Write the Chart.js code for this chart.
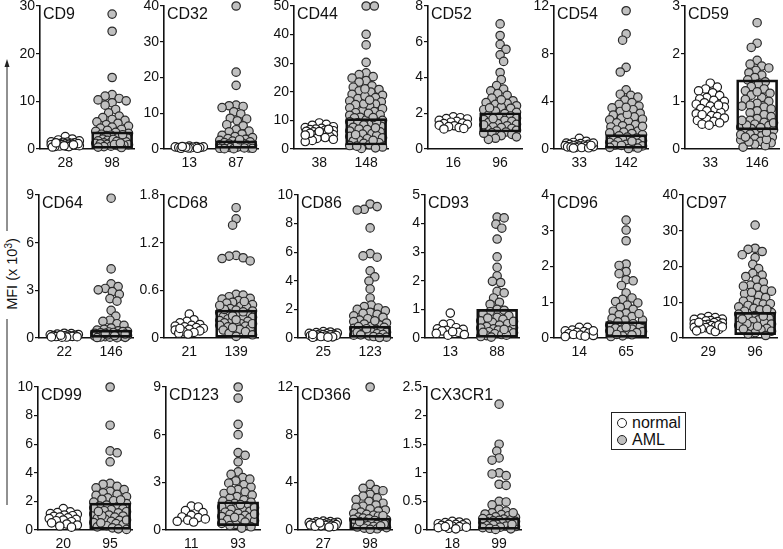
<!DOCTYPE html>
<html><head><meta charset="utf-8">
<script src="https://cdn.jsdelivr.net/npm/chart.js@4"></script>
<style>
html,body{margin:0;padding:0;background:#fff;}
#wrap{position:relative;width:783px;height:549px;overflow:hidden;font-family:"Liberation Sans",Arial,sans-serif;}
canvas{position:absolute;}
#legend{position:absolute;left:611px;top:412px;width:75px;height:38px;border:1px solid #222;box-sizing:border-box;font-size:16px;color:#111;}
#legend div{position:absolute;left:20px;height:18px;line-height:18px;}
#legend span{position:absolute;width:8px;height:8px;border-radius:50%;border:1px solid #222;}
#ytitle{position:absolute;left:12px;top:274px;transform:translate(-50%,-50%) rotate(-90deg);white-space:nowrap;font-size:14.5px;color:#111;}
</style></head>
<body><div id="wrap">
<svg width="20" height="549" style="position:absolute;left:0;top:0">
<line x1="7" y1="66" x2="7" y2="231" stroke="#222" stroke-width="1"/>
<line x1="7" y1="319" x2="7" y2="505" stroke="#222" stroke-width="1"/>
<polygon points="7,59 4.5,67 9.5,67" fill="#222"/>
</svg>
<div id="ytitle">MFI (x 10<sup style="font-size:10px;vertical-align:5px;line-height:0">3</sup>)</div>
<div id="legend">
<span style="left:5px;top:5px;background:#fff"></span><div style="top:1px">normal</div>
<span style="left:5px;top:22px;background:#c0c0c0"></span><div style="top:18px">AML</div>
</div>
</div>
<script>
const markers = ['CD9','CD32','CD44','CD52','CD54','CD59','CD64','CD68','CD86','CD93','CD96','CD97','CD99','CD123','CD366','CX3CR1'];
const nNormal = [28,13,38,16,33,33,22,21,25,13,14,29,20,11,27,18];
const nAML = [98,87,148,96,142,146,146,139,123,88,65,96,95,93,98,99];
const yMax = [30,40,50,8,12,3,9,1.8,10,5,4,40,10,9,12,2.5];
const yTicks = [[0,10,20,30],[0,10,20,30,40],[0,10,20,30,40,50],[0,2,4,6,8],[0,4,8,12],[0,1,2,3],
  [0,3,6,9],[0,0.6,1.2,1.8],[0,2,4,6,8,10],[0,1,2,3,4,5],[0,1,2,3,4],[0,10,20,30,40],
  [0,2,4,6,8,10],[0,3,6,9],[0,4,8,12],[0,0.5,1,1.5,2,2.5]];
const boxLow  = [0,0,1.4,0.95,0,0.4,0,0,0,0,0,0.95,0,0.28,0,0];
const boxHigh = [3.6,2.3,10.6,2.03,1.2,1.45,0.5,0.35,0.82,1.0,0.46,7.15,1.88,1.78,1.0,0.21];

const CD9_normal = [2.6,2.1,1.9,1.7,1.5,1.45,1.4,1.3,1.2,1.15,1.1,1.0,1.0,0.92,0.9,0.82,0.8,0.72,0.7,0.62,0.6,0.52,0.5,0.42,1.12,1.28,0.88,0.68];
const CD9_aml = [28.3,24.7,15.0,11.4,11.1,10.6,10.3,10.1,9.7,9.2,8.3,7.6,6.9,6.6,6.2,6.0,5.7,5.4,5.1,4.8,4.6,4.4,4.1,3.9,3.7,3.5,3.3,3.1,2.9,2.8,2.6,2.4,2.3,2.1,1.9,1.8,1.7,1.5,1.4,1.3,1.2,1.1,1.0,0.9,0.8,0.7,0.6,0.5,0.4,0.3,2.0,3.0,1.6,0.95,1.25];
const CD32_normal = [0.8,0.7,0.6,0.6,0.5,0.4,0.4,0.3,0.3,0.2,0.2,0.5,0.7];
const CD32_aml = [40,21.5,17.8,12.3,12.1,11.9,11.6,10.4,9.8,8.6,8.4,7.9,6.8,6.5,5.4,5.0,4.8,4.2,3.8,3.5,3.2,2.9,2.7,2.4,2.2,2.0,1.8,1.6,1.4,1.2,1.1,1.0,0.9,0.8,0.7,0.6,0.5,0.4,0.3,0.3,0.2,0.2,0.1,0.1,1.5,2.6];
const CD44_normal = [9.1,8.6,8.3,7.8,7.5,7.2,7.0,6.8,6.6,6.4,6.2,6.0,5.8,5.6,5.4,5.2,5.0,4.8,4.6,4.4,4.2,4.0,3.7,3.4,3.0,2.6,6.1,5.5,6.9,4.9];
const CD44_aml = [50,50,40.1,36.4,30.3,26.6,26.0,25.3,24.8,23.9,23.4,22.1,21.6,20.8,20.3,19.9,19.1,18.8,18.0,17.6,16.8,16.5,15.7,15.5,15.0,14.4,14.1,13.3,13.1,12.7,12.0,11.8,11.1,10.9,10.2,10.0,9.5,9.2,8.6,8.4,7.9,7.6,7.0,6.8,6.3,6.0,5.4,5.2,4.7,4.4,3.9,3.6,3.1,2.8,2.2,2.0,1.5,1.2,0.7,0.4,0.2,12.5,15.8,18.5,9.4,7.4,5.0,3.0,1.0,11.0,17.1,21.0];
const CD52_normal = [1.8,1.75,1.7,1.68,1.6,1.55,1.5,1.45,1.42,1.38,1.33,1.3,1.25,1.2,1.15,1.12];
const CD52_aml = [7.0,6.35,5.85,5.58,5.27,4.9,4.28,3.88,3.55,3.35,3.25,3.1,3.0,2.85,2.7,2.6,2.55,2.5,2.42,2.35,2.28,2.2,2.12,2.05,1.98,1.9,1.85,1.78,1.72,1.65,1.6,1.55,1.48,1.42,1.38,1.3,1.25,1.2,1.15,1.1,1.05,1.0,0.95,0.9,0.82,0.75,0.68,0.6,0.54,1.7,2.3,1.35,2.75,0.88];
const CD54_normal = [0.9,0.65,0.55,0.5,0.45,0.4,0.38,0.35,0.32,0.3,0.28,0.25,0.22,0.2,0.18,0.16,0.14,0.12,0.1,0.08,0.5,0.3];
const CD54_aml = [11.6,9.66,9.13,6.85,6.46,4.97,4.6,4.5,4.35,4.1,3.9,3.75,3.6,3.45,3.3,3.15,3.0,2.85,2.7,2.6,2.45,2.3,2.2,2.05,1.95,1.85,1.72,1.6,1.5,1.42,1.3,1.2,1.1,1.0,0.92,0.85,0.78,0.7,0.62,0.55,0.48,0.4,0.33,0.26,0.2,0.14,0.08,0.04,1.35,2.5,0.65,1.9,0.3,2.9,3.5];
const CD59_normal = [1.38,1.3,1.26,1.22,1.18,1.12,1.08,1.05,1.02,1.0,0.97,0.94,0.9,0.88,0.85,0.82,0.8,0.77,0.74,0.7,0.68,0.65,0.62,0.6,0.58,0.55,0.52,0.5,0.92,0.72];
const CD59_aml = [2.65,2.22,2.13,1.86,1.78,1.74,1.7,1.65,1.6,1.55,1.5,1.45,1.41,1.36,1.31,1.26,1.22,1.17,1.13,1.08,1.04,1.0,0.96,0.92,0.88,0.84,0.8,0.76,0.72,0.68,0.64,0.6,0.56,0.52,0.49,0.46,0.43,0.4,0.37,0.34,0.31,0.28,0.25,0.22,0.19,0.16,0.13,0.1,0.07,0.04,0.3,0.5,0.2,0.45,0.35,0.15,0.6,1.2,0.9,0.55,0.25];
const CD64_normal = [0.3,0.28,0.25,0.22,0.2,0.19,0.17,0.15,0.14,0.12,0.11,0.1,0.09,0.08,0.07,0.06,0.05,0.18];
const CD64_aml = [8.8,4.35,3.41,3.24,3.12,3.03,2.92,2.75,2.48,2.32,1.74,1.38,1.12,1.05,0.9,0.8,0.63,0.55,0.5,0.45,0.42,0.38,0.35,0.32,0.3,0.28,0.25,0.22,0.2,0.18,0.16,0.14,0.12,0.1,0.08,0.06,0.05,0.04,0.03,0.02,0.2,0.3,0.15,0.4,0.25];
const CD68_normal = [0.3,0.23,0.21,0.19,0.17,0.16,0.15,0.14,0.13,0.12,0.11,0.1,0.09,0.08,0.07,0.06,0.05,0.12];
const CD68_aml = [1.64,1.5,1.42,1.04,1.03,1.01,1.0,0.97,0.55,0.54,0.52,0.5,0.49,0.47,0.45,0.44,0.42,0.4,0.39,0.37,0.35,0.34,0.32,0.31,0.3,0.29,0.27,0.26,0.25,0.24,0.22,0.21,0.2,0.19,0.18,0.17,0.16,0.15,0.14,0.12,0.11,0.1,0.08,0.06,0.04,0.02,0.33,0.28,0.23,0.36,0.41,0.18,0.13,0.46];
const CD86_normal = [0.45,0.42,0.38,0.35,0.32,0.3,0.28,0.26,0.24,0.22,0.2,0.18,0.16,0.14,0.12,0.1,0.08,0.06,0.05,0.25];
const CD86_aml = [9.37,9.19,9.0,8.95,7.7,5.9,5.74,5.65,4.7,4.28,3.98,3.43,2.8,2.3,2.2,2.1,2.0,1.9,1.8,1.72,1.65,1.55,1.45,1.35,1.25,1.15,1.05,0.98,0.9,0.82,0.75,0.68,0.6,0.55,0.5,0.45,0.4,0.35,0.3,0.25,0.2,0.15,0.1,0.06,0.03,0.8,1.2,0.4,0.65,0.22];
const CD93_normal = [0.87,0.5,0.48,0.36,0.32,0.3,0.27,0.25,0.2,0.16,0.12,0.1,0.22];
const CD93_aml = [4.23,4.2,3.98,3.84,3.46,2.84,2.47,2.17,1.98,1.94,1.63,1.58,1.4,1.25,1.18,1.0,0.97,0.92,0.85,0.78,0.72,0.65,0.6,0.55,0.5,0.45,0.4,0.36,0.32,0.28,0.25,0.22,0.18,0.15,0.12,0.1,0.08,0.05,0.03,0.7,0.35,0.2,0.58,0.3];
const CD96_normal = [0.3,0.3,0.22,0.2,0.18,0.16,0.14,0.12,0.1,0.08,0.07,0.05,0.04,0.2];
const CD96_aml = [3.3,3.02,2.72,2.07,2.03,1.86,1.8,1.63,1.6,1.47,1.26,1.12,1.08,1.02,0.98,0.92,0.86,0.8,0.75,0.7,0.65,0.6,0.55,0.5,0.45,0.4,0.36,0.32,0.28,0.25,0.22,0.18,0.15,0.12,0.09,0.06,0.04,0.3,0.2,0.5,0.1,0.68];
const CD97_normal = [6.0,5.7,5.6,5.3,5.2,4.9,4.8,4.6,4.3,4.2,4.0,3.8,3.7,3.5,3.4,3.2,3.0,2.9,2.6,2.4,2.3,2.0,1.8,4.4,3.6,3.1];
const CD97_aml = [31.6,25.1,24.8,24.2,23.3,22.5,20.6,19.4,18.1,17.6,17.2,16.3,15.6,14.8,14.2,13.6,13.1,12.4,11.9,11.3,10.8,10.3,9.9,9.5,9.1,8.7,8.3,7.9,7.5,7.1,6.7,6.3,5.9,5.5,5.1,4.7,4.3,3.9,3.5,3.1,2.7,2.3,1.9,1.5,1.1,0.7,12.8,9.6,6.1,4.0,2.5,14.5,8.0,5.3,3.3];
const CD99_normal = [1.5,1.27,1.22,1.15,1.1,1.05,1.0,0.95,0.9,0.85,0.8,0.75,0.7,0.65,0.58,0.5,0.42,0.35,0.28,0.2];
const CD99_aml = [10.0,7.33,5.53,5.4,4.77,3.26,3.2,3.05,2.95,2.82,2.7,2.6,2.5,2.42,2.33,2.25,2.15,2.05,1.95,1.85,1.75,1.68,1.6,1.5,1.42,1.35,1.28,1.2,1.12,1.05,0.98,0.9,0.82,0.75,0.68,0.6,0.52,0.45,0.38,0.3,0.22,0.15,0.08,0.04,1.0,1.55,2.1,0.7,1.3,0.5];
const CD123_normal = [1.5,1.45,1.22,1.1,0.92,0.82,0.78,0.7,0.62,0.55,0.5];
const CD123_aml = [9.0,8.3,6.65,6.0,4.87,4.7,4.29,3.66,3.5,3.3,3.1,2.95,2.85,2.7,2.55,2.4,2.3,2.2,2.1,2.0,1.9,1.82,1.75,1.68,1.6,1.52,1.45,1.38,1.3,1.24,1.18,1.12,1.05,0.98,0.92,0.85,0.78,0.72,0.65,0.58,0.5,0.42,0.35,0.28,0.2,0.12,1.4,1.0,2.5,0.8,1.6,3.2];
const CD366_normal = [0.75,0.7,0.68,0.65,0.62,0.6,0.58,0.55,0.52,0.5,0.48,0.45,0.42,0.4,0.38,0.35,0.32,0.3,0.25,0.6];
const CD366_aml = [12.0,3.83,3.5,3.4,3.3,3.0,2.85,2.7,2.55,2.4,2.25,2.1,2.0,1.9,1.78,1.68,1.58,1.5,1.4,1.32,1.24,1.16,1.08,1.0,0.93,0.86,0.8,0.73,0.66,0.6,0.54,0.48,0.42,0.36,0.3,0.25,0.2,0.15,0.1,0.06,0.9,0.5,1.2,0.7,0.35];
const CX3CR1_normal = [0.15,0.14,0.13,0.12,0.11,0.1,0.09,0.08,0.07,0.06,0.05,0.04,0.03,0.02,0.1,0.06];
const CX3CR1_aml = [2.2,1.5,1.38,1.26,1.22,1.0,0.98,0.95,0.8,0.78,0.5,0.49,0.44,0.36,0.33,0.3,0.28,0.27,0.25,0.23,0.22,0.2,0.19,0.18,0.17,0.16,0.15,0.14,0.13,0.12,0.11,0.1,0.09,0.08,0.07,0.06,0.05,0.04,0.03,0.02,0.01,0.2,0.15,0.1,0.3];

const normalSets = [CD9_normal,CD32_normal,CD44_normal,CD52_normal,CD54_normal,CD59_normal,CD64_normal,CD68_normal,CD86_normal,CD93_normal,CD96_normal,CD97_normal,CD99_normal,CD123_normal,CD366_normal,CX3CR1_normal];
const amlSets = [CD9_aml,CD32_aml,CD44_aml,CD52_aml,CD54_aml,CD59_aml,CD64_aml,CD68_aml,CD86_aml,CD93_aml,CD96_aml,CD97_aml,CD99_aml,CD123_aml,CD366_aml,CX3CR1_aml];

// layout (pixels)
const axisX = [40,164,294,428,554,685, 39,164,298,425,554,683, 38,166,298,427];
const rowTop = [6,195,387];
const PLOT_H = 143, PLOT_W = 97, YAX_W = 40, PAD_T = 12, XAX_H = 26, PAD_R = 3;
const X_MIN = -0.54, X_MAX = 1.48;
const PX_PER_X = PLOT_W / (X_MAX - X_MIN);
const DOT_R = 4.2;

function swarm(vals, ymax, center, maxOff) {
  const pxY = PLOT_H / ymax;
  const order = vals.map((v, i) => i).sort((a, b) => vals[b] - vals[a]);
  const placed = [];
  const out = new Array(vals.length);
  const minD = 7.2, step = 1.2;
  order.forEach((idx, n) => {
    const y = vals[idx] * pxY;
    let best = 0, bestScore = -1;
    const sgn = n % 2 ? 1 : -1;
    const kMax = Math.floor(maxOff / step) * 2;
    for (let k = 0; k <= kMax; k++) {
      const off = (k % 2 ? sgn : -sgn) * Math.ceil(k / 2) * step;
      let dmin = Infinity;
      for (const p of placed) {
        const d = Math.hypot(p.x - off, p.y - y);
        if (d < dmin) dmin = d;
      }
      if (dmin >= minD) { best = off; bestScore = Infinity; break; }
      if (dmin > bestScore) { bestScore = dmin; best = off; }
    }
    placed.push({x: best, y});
    out[idx] = {x: center + best / PX_PER_X, y: vals[idx]};
  });
  return out;
}

const titlePlugin = {
  id: 'panelTitle',
  afterDraw(chart, args, opts) {
    const {ctx, chartArea} = chart;
    ctx.save();
    ctx.font = '16px "Liberation Sans", Arial, sans-serif';
    ctx.fillStyle = '#111';
    ctx.textBaseline = 'middle';
    ctx.textAlign = 'left';
    ctx.fillText(opts.text, chartArea.left + 3, chartArea.top + 9);
    ctx.restore();
  }
};

const wrap = document.getElementById('wrap');
markers.forEach((name, i) => {
  const row = i < 6 ? 0 : (i < 12 ? 1 : 2);
  const cv = document.createElement('canvas');
  const W = YAX_W + PLOT_W + PAD_R, H = PAD_T + PLOT_H + XAX_H;
  cv.width = W; cv.height = H;
  cv.style.left = (axisX[i] - YAX_W) + 'px';
  cv.style.top = (rowTop[row] - PAD_T) + 'px';
  cv.style.width = W + 'px'; cv.style.height = H + 'px';
  wrap.appendChild(cv);
  const ticks = yTicks[i];
  new Chart(cv, {
    type: 'bar',
    data: {
      datasets: [
        {
          type: 'bar',
          data: [{x: 1, y: [boxLow[i], boxHigh[i]]}],
          backgroundColor: 'rgba(255,255,255,0)',
          borderColor: '#111',
          borderWidth: 2,
          borderSkipped: false,
          barThickness: 41,
          order: 0
        },
        {
          type: 'scatter',
          data: swarm(normalSets[i], yMax[i], 0, 15),
          backgroundColor: '#ffffff',
          borderColor: '#1a1a1a',
          borderWidth: 1.2,
          pointRadius: DOT_R,
          order: 2
        },
        {
          type: 'scatter',
          data: swarm(amlSets[i], yMax[i], 1, 17),
          backgroundColor: '#c0c0c0',
          borderColor: '#2a2a2a',
          borderWidth: 1.2,
          pointRadius: DOT_R,
          order: 1
        }
      ]
    },
    options: {
      responsive: false,
      animation: false,
      devicePixelRatio: 1,
      clip: false,
      layout: {padding: {top: PAD_T, right: PAD_R, left: 0, bottom: 0}},
      plugins: {legend: {display: false}, tooltip: {enabled: false}, panelTitle: {text: name}},
      scales: {
        x: {
          type: 'linear', min: X_MIN, max: X_MAX, offset: false,
          afterBuildTicks: s => { s.ticks = [{value: 0}, {value: 1}]; },
          afterFit: s => { s.height = XAX_H; },
          grid: {display: false, drawTicks: false},
          border: {display: true, color: '#111', width: 1.6},
          ticks: {
            padding: 6, color: '#111', maxRotation: 0, autoSkip: false,
            font: {family: '"Liberation Sans", Arial, sans-serif', size: 14},
            callback: (v, idx) => idx === 0 ? String(nNormal[i]) : String(nAML[i])
          }
        },
        y: {
          type: 'linear', min: 0, max: yMax[i],
          afterBuildTicks: s => { s.ticks = ticks.map(v => ({value: v})); },
          afterFit: s => { s.width = YAX_W; },
          grid: {display: true, drawOnChartArea: false, drawTicks: true, tickLength: 4, color: '#111', lineWidth: 1.2},
          border: {display: true, color: '#111', width: 1.6},
          ticks: {
            padding: 1, color: '#111', autoSkip: false,
            font: {family: '"Liberation Sans", Arial, sans-serif', size: 14},
            callback: (v, idx) => String(ticks[idx])
          }
        }
      }
    },
    plugins: [titlePlugin]
  });
});
</script>
</body></html>
